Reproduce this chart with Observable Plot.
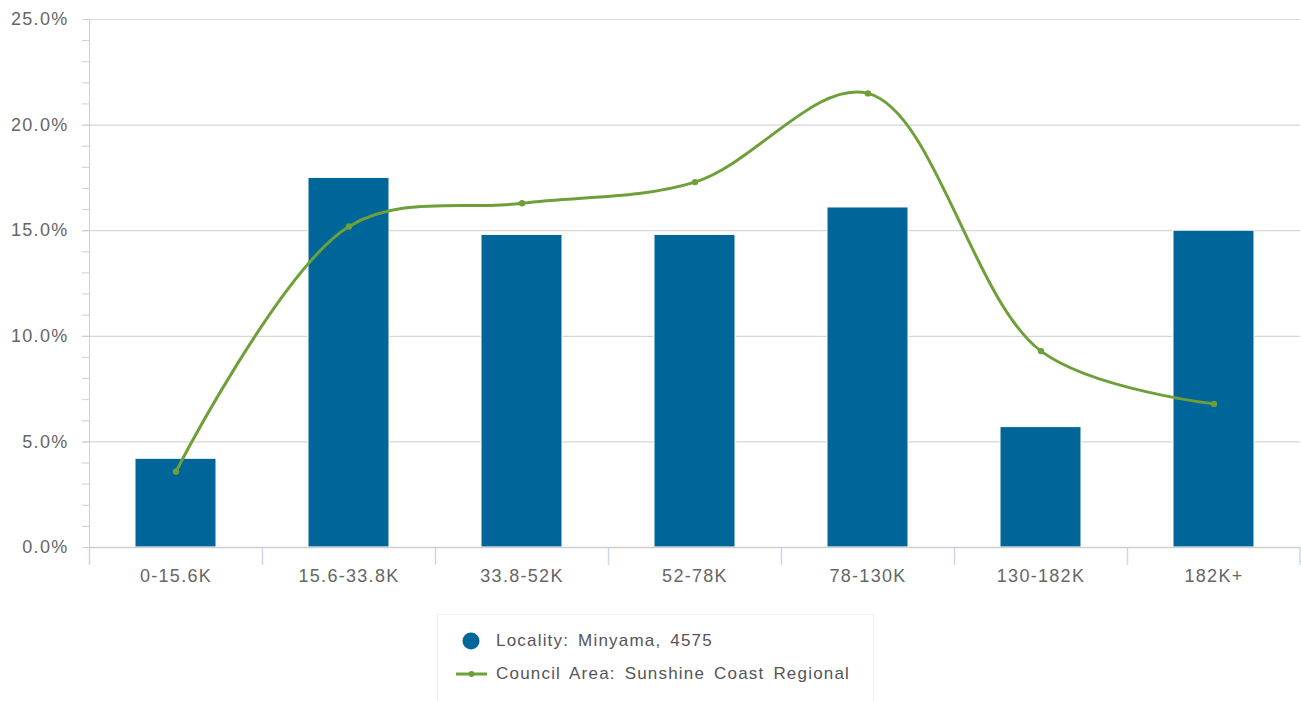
<!DOCTYPE html>
<html>
<head>
<meta charset="utf-8">
<script src="https://cdn.jsdelivr.net/npm/d3@7"></script>
<script src="https://cdn.jsdelivr.net/npm/@observablehq/plot@0.6"></script>
<style>
  html, body { margin: 0; padding: 0; background: #fff; }
  body { width: 1301px; height: 701px; position: relative; overflow: hidden; font-family: "Liberation Sans", Arial, sans-serif; }
  #chart svg text { letter-spacing: 1.3px; }
  #legend { position: absolute; left: 437px; top: 614px; width: 437px; height: 92px; border: 1px solid #eeeeee; box-sizing: border-box; background: #fff; }
  .item { position: absolute; left: 0; display: flex; align-items: center; font-size: 17px; color: #555; letter-spacing: 1.2px; word-spacing: 3px; }
</style>
</head>
<body>
<div id="chart"></div>
<div id="legend">
  <div class="item" style="top: 16px; left: 18px;">
    <svg width="40" height="20"><circle cx="15" cy="10" r="8.5" fill="#006699"/></svg>
    <span id="lab1"></span>
  </div>
  <div class="item" style="top: 49px; left: 18px;">
    <svg width="40" height="20"><line x1="0" x2="31" y1="10" y2="10" stroke="#6ea03a" stroke-width="3"/><circle cx="15.5" cy="10" r="3" fill="#6ea03a"/></svg>
    <span id="lab2"></span>
  </div>
</div>
<script>
const categories = ["0-15.6K", "15.6-33.8K", "33.8-52K", "52-78K", "78-130K", "130-182K", "182K+"];
const localityValues = [4.2, 17.5, 14.8, 14.8, 16.1, 5.7, 15.0];
const councilValues = [3.6, 15.2, 16.3, 17.3, 21.5, 9.3, 6.8];
const seriesNames = ["Locality: Minyama, 4575", "Council Area: Sunshine Coast Regional"];
const majorTicks = [0, 5, 10, 15, 20, 25];
const minorTicks = d3.range(0, 26, 1);

document.getElementById("lab1").textContent = seriesNames[0];
document.getElementById("lab2").textContent = seriesNames[1];

const localityData = categories.map((c, i) => ({cat: c, value: localityValues[i]}));
const councilData = categories.map((c, i) => ({cat: c, value: councilValues[i]}));

const W = 1301, H = 600, mL = 89, mR = 1, mT = 19, mB = 53;
const step = (W - mL - mR) / categories.length;

const chart = Plot.plot({
  width: W,
  height: H,
  marginLeft: mL,
  marginRight: mR,
  marginTop: mT,
  marginBottom: mB,
  style: {fontFamily: "'Liberation Sans', Arial, sans-serif", fontSize: "18px", color: "#666", background: "#fff", overflow: "visible"},
  x: {domain: categories, paddingInner: 0.53, paddingOuter: 0.265, label: null, axis: null},
  y: {domain: [0, 25], label: null, axis: null},
  marks: [
    Plot.ruleY(majorTicks, {stroke: "#d6d6d6", strokeWidth: 1.2, strokeOpacity: 1}),
    Plot.axisY(minorTicks, {tickSize: 7, text: null, stroke: "#cfcfcf", strokeOpacity: 1}),
    Plot.axisY(majorTicks, {tickSize: 7, tickPadding: 14, stroke: "#cfcfcf", strokeOpacity: 1, tickFormat: d => d.toFixed(1) + "%", fill: "#666", fontSize: 18}),
    Plot.frame({anchor: "left", stroke: "#cfcfcf", strokeOpacity: 1}),
    Plot.ruleX(categories, {x: d => d, dx: -step / 2, y1: 0, y2: 0, insetBottom: -18, stroke: "#ccd6eb", strokeWidth: 1.5}),
    Plot.ruleX([categories[categories.length - 1]], {x: d => d, dx: step / 2 - 0.5, y1: 0, y2: 0, insetBottom: -18, stroke: "#ccd6eb", strokeWidth: 1.5}),
    Plot.axisX(categories, {tickSize: 0, tickPadding: 22, fill: "#666", fontSize: 18}),
    Plot.barY(localityData, {x: "cat", y: "value", fill: "#006699", stroke: "#ffffff", strokeWidth: 1}),
    Plot.ruleY([0], {stroke: "#cfcfcf", strokeWidth: 1.5}),
    Plot.line(councilData, {x: "cat", y: "value", stroke: "#6ea03a", strokeWidth: 3, curve: "catmull-rom"}),
    Plot.dot(councilData, {x: "cat", y: "value", fill: "#6ea03a", r: 3.2})
  ]
});
document.getElementById("chart").appendChild(chart);
</script>
</body>
</html>
